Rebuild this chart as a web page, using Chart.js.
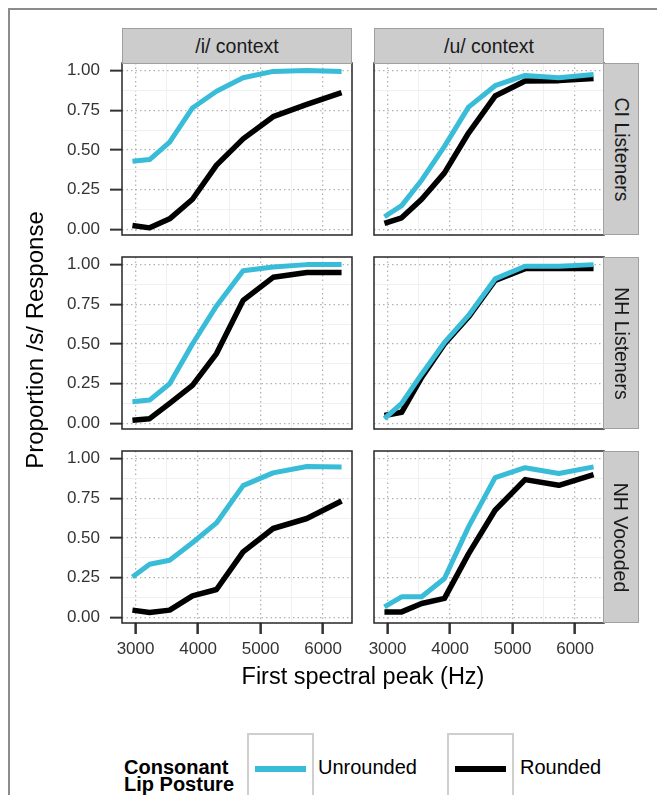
<!DOCTYPE html>
<html><head><meta charset="utf-8">
<script src="https://cdn.jsdelivr.net/npm/chart.js@4.4.1/dist/chart.umd.min.js"></script>
<style>
html,body{margin:0;padding:0;background:#fff;width:657px;height:795px;overflow:hidden;font-family:"Liberation Sans",Arial,sans-serif;}
#frame{position:absolute;left:8px;top:8px;width:800px;height:900px;border-left:2px solid #8c8c8c;border-top:2px solid #8c8c8c;}
.strip{position:absolute;background:#cccccc;border:1.5px solid #a0a0a0;box-sizing:border-box;color:#1a1a1a;font-size:19.5px;display:flex;align-items:center;justify-content:center;white-space:nowrap;}
.strip.r span{display:block;transform:rotate(90deg);}
canvas{position:absolute;}
.ttl{position:absolute;color:#000;font-size:23.5px;line-height:30px;height:30px;text-align:center;white-space:nowrap;}
.lg{position:absolute;font-size:20px;color:#000;white-space:nowrap;}
.key{position:absolute;border:2px solid #cfcfcf;box-sizing:border-box;}
.key i{position:absolute;height:6px;}
</style></head>
<body>
<div id="frame"></div>
<div id="root"></div>
<script>
// ---- data ----
const freqHz = [2950, 3225, 3545, 3910, 4295, 4720, 5200, 5740, 6295];
const contexts = ['/i/ context', '/u/ context'];
const listenerGroups = ['CI Listeners', 'NH Listeners', 'NH Vocoded'];
const seriesNames = ['Unrounded', 'Rounded'];
const yTickValues = [0, 0.25, 0.5, 0.75, 1];
const xTickValues = [3000, 4000, 5000, 6000];
const yMinorValues = [0.125, 0.375, 0.625, 0.875];
const xMinorValues = [3500, 4500, 5500];

const ciIUnrounded  = [0.43, 0.44, 0.55, 0.765, 0.87, 0.955, 0.995, 1.0, 0.995];
const ciIRounded    = [0.025, 0.01, 0.067, 0.19, 0.405, 0.57, 0.71, 0.787, 0.862];
const ciUUnrounded  = [0.08, 0.15, 0.31, 0.523, 0.77, 0.905, 0.97, 0.955, 0.975];
const ciURounded    = [0.038, 0.073, 0.19, 0.356, 0.607, 0.84, 0.935, 0.937, 0.95];
const nhIUnrounded  = [0.136, 0.147, 0.25, 0.50, 0.74, 0.962, 0.985, 1.0, 1.0];
const nhIRounded    = [0.02, 0.03, 0.126, 0.24, 0.44, 0.775, 0.92, 0.95, 0.95];
const nhUUnrounded  = [0.03, 0.126, 0.31, 0.51, 0.68, 0.91, 0.99, 0.99, 1.0];
const nhURounded    = [0.05, 0.07, 0.29, 0.50, 0.67, 0.90, 0.975, 0.975, 0.975];
const vocIUnrounded = [0.255, 0.335, 0.36, 0.47, 0.595, 0.83, 0.91, 0.95, 0.947];
const vocIRounded   = [0.046, 0.031, 0.046, 0.136, 0.176, 0.413, 0.56, 0.623, 0.733];
const vocUUnrounded = [0.067, 0.13, 0.13, 0.245, 0.57, 0.88, 0.943, 0.906, 0.948];
const vocURounded   = [0.035, 0.035, 0.088, 0.12, 0.40, 0.675, 0.868, 0.832, 0.90];

const panelData = [
  [[ciIUnrounded, ciIRounded], [ciUUnrounded, ciURounded]],
  [[nhIUnrounded, nhIRounded], [nhUUnrounded, nhURounded]],
  [[vocIUnrounded, vocIRounded], [vocUUnrounded, vocURounded]]
];

// ---- layout ----
const colLeft = [122, 374], panelW = 230;
const rowTop = [63, 257, 451], panelH = 172;
const stripH = 35, stripW = 36;
const colors = ['#38BCD8', '#000000'];
const root = document.getElementById('root');
const PAD = 40;

const panelBorder = {
  id: 'panelBorder',
  afterDraw(chart) {
    const { ctx, chartArea: a } = chart;
    ctx.save();
    ctx.strokeStyle = '#262626';
    ctx.lineWidth = 1.5;
    ctx.strokeRect(a.left, a.top, a.right - a.left, a.bottom - a.top);
    ctx.restore();
  }
};

const isMajorX = v => xTickValues.includes(v);
const isMajorY = v => yTickValues.some(t => Math.abs(t - v) < 1e-9);

for (let r = 0; r < 3; r++) {
  for (let c = 0; c < 2; c++) {
    const bottom = r === 2, left = c === 0;
    const yAxisW = left ? 62 : 0;
    const xAxisH = bottom ? 42 : 0;
    const cw = PAD + yAxisW + panelW + PAD;
    const ch = PAD + panelH + xAxisH + PAD;
    const cv = document.createElement('canvas');
    cv.width = cw; cv.height = ch;
    cv.style.left = (colLeft[c] - yAxisW - PAD) + 'px';
    cv.style.top = (rowTop[r] - PAD) + 'px';
    cv.style.width = cw + 'px'; cv.style.height = ch + 'px';
    root.appendChild(cv);

    const datasets = panelData[r][c].map((arr, k) => ({
      label: seriesNames[k],
      data: freqHz.map((x, i) => ({ x: x, y: arr[i] })),
      borderColor: colors[k],
      borderWidth: k === 0 ? 5 : 5.5,
      borderJoinStyle: 'round',
      borderCapStyle: 'butt',
      pointRadius: 0,
      tension: 0,
      fill: false
    }));

    new Chart(cv, {
      type: 'line',
      data: { datasets },
      plugins: [panelBorder],
      options: {
        responsive: false, animation: false, devicePixelRatio: 1,
        layout: { autoPadding: false, padding: PAD },
        plugins: { legend: { display: false }, tooltip: { enabled: false } },
        scales: {
          x: {
            type: 'linear', min: 2783, max: 6462,
            afterBuildTicks: s => { s.ticks = xTickValues.concat(xMinorValues).sort((a, b) => a - b).map(v => ({ value: v })); },
            afterFit: s => { s.height = xAxisH; },
            border: { display: false, dash: ctx => isMajorX(ctx.tick && ctx.tick.value) ? [1.5, 3] : [] },
            grid: {
              drawTicks: bottom, tickLength: 11, tickWidth: 2.5,
              tickColor: ctx => isMajorX(ctx.tick && ctx.tick.value) ? '#333333' : 'rgba(0,0,0,0)',
              color: ctx => isMajorX(ctx.tick && ctx.tick.value) ? '#b3b3b3' : '#f0f0f0',
              lineWidth: ctx => isMajorX(ctx.tick && ctx.tick.value) ? 1.3 : 1
            },
            ticks: {
              display: bottom, padding: 5, color: '#333333', maxRotation: 0, autoSkip: false,
              font: { family: '"Liberation Sans", Arial, sans-serif', size: 17 },
              callback: v => isMajorX(v) ? String(v) : ''
            }
          },
          y: {
            type: 'linear', min: -0.035, max: 1.048,
            afterBuildTicks: s => { s.ticks = yTickValues.concat(yMinorValues).sort((a, b) => a - b).map(v => ({ value: v })); },
            afterFit: s => { s.width = yAxisW; },
            border: { display: false, dash: ctx => isMajorY(ctx.tick && ctx.tick.value) ? [1.5, 3] : [] },
            grid: {
              drawTicks: left, tickLength: 12, tickWidth: 2,
              tickColor: ctx => isMajorY(ctx.tick && ctx.tick.value) ? '#333333' : 'rgba(0,0,0,0)',
              color: ctx => isMajorY(ctx.tick && ctx.tick.value) ? '#b3b3b3' : '#f0f0f0',
              lineWidth: ctx => isMajorY(ctx.tick && ctx.tick.value) ? 1.3 : 1
            },
            ticks: {
              display: left, padding: 10, color: '#333333', autoSkip: false,
              font: { family: '"Liberation Sans", Arial, sans-serif', size: 17 },
              callback: v => isMajorY(v) ? v.toFixed(2) : ''
            }
          }
        }
      }
    });
  }
}

// strips
contexts.forEach((t, c) => {
  const d = document.createElement('div');
  d.className = 'strip';
  d.style.left = colLeft[c] + 'px'; d.style.top = (rowTop[0] - stripH) + 'px';
  d.style.width = panelW + 'px'; d.style.height = (stripH + 1) + 'px';
  d.textContent = t;
  root.appendChild(d);
});
listenerGroups.forEach((t, r) => {
  const d = document.createElement('div');
  d.className = 'strip r';
  d.style.left = (colLeft[1] + panelW - 1) + 'px'; d.style.top = rowTop[r] + 'px';
  d.style.width = stripW + 'px'; d.style.height = panelH + 'px';
  const s = document.createElement('span'); s.textContent = t; d.appendChild(s);
  root.appendChild(d);
});

// axis titles
const xt = document.createElement('div');
xt.className = 'ttl'; xt.textContent = 'First spectral peak (Hz)';
xt.style.width = '400px'; xt.style.left = (363 - 200) + 'px'; xt.style.top = (676 - 15) + 'px';
root.appendChild(xt);
const yt = document.createElement('div');
yt.className = 'ttl'; yt.textContent = 'Proportion /s/ Response';
yt.style.fontSize = '24px';
yt.style.width = '400px'; yt.style.left = (35 - 200) + 'px'; yt.style.top = (340 - 15) + 'px';
yt.style.transform = 'rotate(-90deg)';
root.appendChild(yt);

// legend
const lt = document.createElement('div');
lt.className = 'lg'; lt.style.fontWeight = 'bold'; lt.style.lineHeight = '17px';
lt.style.left = '124px'; lt.style.top = '759px';
lt.innerHTML = 'Consonant<br>Lip Posture';
root.appendChild(lt);
const keys = [{ box: 247, lab: 318 }, { box: 447, lab: 520 }];
keys.forEach((k, i) => {
  const b = document.createElement('div');
  b.className = 'key';
  b.style.left = k.box + 'px'; b.style.top = '733px'; b.style.width = '67px'; b.style.height = '90px';
  const ln = document.createElement('i');
  ln.style.left = '6px'; ln.style.width = '51px'; ln.style.top = '31px'; ln.style.background = colors[i];
  b.appendChild(ln);
  root.appendChild(b);
  const l = document.createElement('div');
  l.className = 'lg'; l.style.left = k.lab + 'px'; l.style.top = '755px'; l.style.lineHeight = '24px';
  l.textContent = seriesNames[i];
  root.appendChild(l);
});
</script>
</body></html>
